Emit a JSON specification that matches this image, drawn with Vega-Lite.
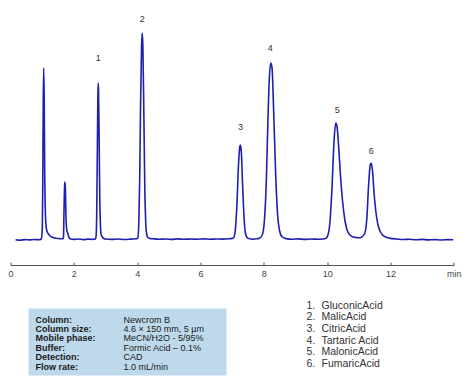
{
  "$schema": "https://vega.github.io/schema/vega-lite/v6.json",
  "padding": {"left": 7.5, "top": 0, "right": 0, "bottom": 0},
  "background": "white",
  "config": {
    "font": "Liberation Sans",
    "view": {"stroke": null},
    "axis": {"grid": false}
  },
  "datasets": {
    "trace": [
      {"t": 0.16, "v": 0.3}, {"t": 0.3, "v": -0.2}, {"t": 0.45, "v": 0.4}, {"t": 0.6, "v": 0.1}, {"t": 0.75, "v": 0.5}, {"t": 0.9, "v": 0.2},
      {"t": 0.97, "v": 1}, {"t": 1.0, "v": 8}, {"t": 1.02, "v": 60}, {"t": 1.035, "v": 140}, {"t": 1.05, "v": 172}, {"t": 1.065, "v": 140}, {"t": 1.08, "v": 70},
      {"t": 1.1, "v": 30}, {"t": 1.12, "v": 15}, {"t": 1.15, "v": 9}, {"t": 1.2, "v": 6}, {"t": 1.25, "v": 4}, {"t": 1.3, "v": 3}, {"t": 1.4, "v": 2}, {"t": 1.5, "v": 1.5}, {"t": 1.6, "v": 1.2}, {"t": 1.66, "v": 1.2},
      {"t": 1.675, "v": 4}, {"t": 1.69, "v": 30}, {"t": 1.71, "v": 55}, {"t": 1.72, "v": 58}, {"t": 1.735, "v": 50}, {"t": 1.75, "v": 25}, {"t": 1.77, "v": 12}, {"t": 1.79, "v": 8}, {"t": 1.81, "v": 7}, {"t": 1.83, "v": 4}, {"t": 1.86, "v": 2}, {"t": 1.9, "v": 1},
      {"t": 2.0, "v": 0.6}, {"t": 2.15, "v": 1.0}, {"t": 2.3, "v": 0.4}, {"t": 2.45, "v": 0.9}, {"t": 2.6, "v": 0.6}, {"t": 2.68, "v": 1},
      {"t": 2.7, "v": 3}, {"t": 2.72, "v": 20}, {"t": 2.74, "v": 80}, {"t": 2.76, "v": 145}, {"t": 2.77, "v": 157}, {"t": 2.78, "v": 150}, {"t": 2.8, "v": 100}, {"t": 2.82, "v": 40}, {"t": 2.84, "v": 15}, {"t": 2.86, "v": 6}, {"t": 2.9, "v": 3}, {"t": 2.95, "v": 1.5},
      {"t": 3.0, "v": 1}, {"t": 3.2, "v": 0.6}, {"t": 3.4, "v": 1.0}, {"t": 3.6, "v": 0.5}, {"t": 3.8, "v": 0.9}, {"t": 3.98, "v": 1.2},
      {"t": 4.02, "v": 2}, {"t": 4.05, "v": 15}, {"t": 4.08, "v": 60}, {"t": 4.11, "v": 140}, {"t": 4.14, "v": 195}, {"t": 4.16, "v": 207}, {"t": 4.18, "v": 195}, {"t": 4.21, "v": 130}, {"t": 4.24, "v": 55}, {"t": 4.27, "v": 18}, {"t": 4.3, "v": 6}, {"t": 4.34, "v": 2.5}, {"t": 4.4, "v": 1.5},
      {"t": 4.5, "v": 1.2}, {"t": 4.7, "v": 0.8}, {"t": 4.9, "v": 1.0}, {"t": 5.1, "v": 0.6}, {"t": 5.3, "v": 1.1}, {"t": 5.5, "v": 0.7}, {"t": 5.7, "v": 1.0}, {"t": 5.9, "v": 0.8}, {"t": 6.1, "v": 1.1}, {"t": 6.3, "v": 0.8}, {"t": 6.5, "v": 1.0}, {"t": 6.7, "v": 0.9}, {"t": 6.9, "v": 1.2}, {"t": 7.0, "v": 1.6},
      {"t": 7.05, "v": 2.5}, {"t": 7.1, "v": 10}, {"t": 7.15, "v": 35}, {"t": 7.2, "v": 75}, {"t": 7.24, "v": 93}, {"t": 7.26, "v": 95}, {"t": 7.29, "v": 88}, {"t": 7.33, "v": 55}, {"t": 7.38, "v": 20}, {"t": 7.42, "v": 7}, {"t": 7.47, "v": 2.5},
      {"t": 7.55, "v": 1.2}, {"t": 7.65, "v": 0.8}, {"t": 7.75, "v": 1.2}, {"t": 7.85, "v": 1.6},
      {"t": 7.95, "v": 5}, {"t": 8.02, "v": 20}, {"t": 8.08, "v": 60}, {"t": 8.13, "v": 120}, {"t": 8.18, "v": 165}, {"t": 8.22, "v": 177}, {"t": 8.26, "v": 172}, {"t": 8.31, "v": 130}, {"t": 8.37, "v": 70}, {"t": 8.43, "v": 28}, {"t": 8.5, "v": 9}, {"t": 8.58, "v": 3},
      {"t": 8.7, "v": 1.4}, {"t": 8.9, "v": 0.8}, {"t": 9.1, "v": 1.1}, {"t": 9.3, "v": 0.6}, {"t": 9.5, "v": 1.0}, {"t": 9.7, "v": 0.7}, {"t": 9.85, "v": 1.0}, {"t": 9.95, "v": 1.6},
      {"t": 10.0, "v": 3}, {"t": 10.08, "v": 15}, {"t": 10.15, "v": 50}, {"t": 10.22, "v": 100}, {"t": 10.27, "v": 117}, {"t": 10.31, "v": 114}, {"t": 10.36, "v": 95}, {"t": 10.42, "v": 65}, {"t": 10.49, "v": 38}, {"t": 10.56, "v": 20}, {"t": 10.63, "v": 10}, {"t": 10.72, "v": 5}, {"t": 10.82, "v": 3}, {"t": 10.92, "v": 2.5}, {"t": 11.0, "v": 2.2},
      {"t": 11.08, "v": 2.8}, {"t": 11.18, "v": 6}, {"t": 11.25, "v": 20}, {"t": 11.31, "v": 55}, {"t": 11.36, "v": 75}, {"t": 11.39, "v": 77}, {"t": 11.43, "v": 70}, {"t": 11.48, "v": 48}, {"t": 11.54, "v": 28}, {"t": 11.6, "v": 16}, {"t": 11.67, "v": 9}, {"t": 11.75, "v": 5}, {"t": 11.85, "v": 3},
      {"t": 12.0, "v": 1.6}, {"t": 12.2, "v": 1.0}, {"t": 12.4, "v": 0.5}, {"t": 12.6, "v": 0.8}, {"t": 12.8, "v": 0.2}, {"t": 13.0, "v": 0.6}, {"t": 13.2, "v": 0.1}, {"t": 13.4, "v": 0.4}, {"t": 13.6, "v": 0.0}, {"t": 13.8, "v": 0.4}, {"t": 13.98, "v": 0.3}
    ],
    "peaks": [
      {"t": 2.77, "v": 182, "label": "1"},
      {"t": 4.16, "v": 221, "label": "2"},
      {"t": 7.26, "v": 113, "label": "3"},
      {"t": 8.2, "v": 192, "label": "4"},
      {"t": 10.32, "v": 130, "label": "5"},
      {"t": 11.39, "v": 89, "label": "6"}
    ],
    "table": [
      {"row": 1, "col": "label", "text": "Column:"},
      {"row": 2, "col": "label", "text": "Column size:"},
      {"row": 3, "col": "label", "text": "Mobile phase:"},
      {"row": 4, "col": "label", "text": "Buffer:"},
      {"row": 5, "col": "label", "text": "Detection:"},
      {"row": 6, "col": "label", "text": "Flow rate:"},
      {"row": 1, "col": "value", "text": "Newcrom B"},
      {"row": 2, "col": "value", "text": "4.6 × 150 mm, 5 µm"},
      {"row": 3, "col": "value", "text": "MeCN/H2O - 5/95%"},
      {"row": 4, "col": "value", "text": "Formic Acid – 0.1%"},
      {"row": 5, "col": "value", "text": "CAD"},
      {"row": 6, "col": "value", "text": "1.0 mL/min"}
    ],
    "legend": [
      {"row": 1, "col": "num", "text": "1."},
      {"row": 2, "col": "num", "text": "2."},
      {"row": 3, "col": "num", "text": "3."},
      {"row": 4, "col": "num", "text": "4."},
      {"row": 5, "col": "num", "text": "5."},
      {"row": 6, "col": "num", "text": "6."},
      {"row": 1, "col": "name", "text": "GluconicAcid"},
      {"row": 2, "col": "name", "text": "MalicAcid"},
      {"row": 3, "col": "name", "text": "CitricAcid"},
      {"row": 4, "col": "name", "text": "Tartaric Acid"},
      {"row": 5, "col": "name", "text": "MalonicAcid"},
      {"row": 6, "col": "name", "text": "FumaricAcid"}
    ]
  },
  "spacing": 22.5,
  "vconcat": [
    {
      "width": 443.3,
      "height": 265,
      "layer": [
        {
          "data": {"name": "trace"},
          "mark": {"type": "line", "color": "#1e1eb0", "strokeWidth": 1.6, "interpolate": "monotone"},
          "encoding": {
            "x": {
              "field": "t", "type": "quantitative",
              "scale": {"domain": [0, 14], "nice": false, "zero": false},
              "axis": {
                "title": null,
                "values": [0, 2, 4, 6, 8, 10, 12, 14],
                "labelExpr": "datum.value == 14 ? 'min' : datum.label",
                "labelFontSize": 9,
                "labelColor": "#444",
                "domainColor": "#555",
                "tickColor": "#555",
                "tickSize": -3,
                "labelPadding": 7,
                "labelFlush": false,
                "labelOverlap": false
              }
            },
            "y": {
              "field": "v", "type": "quantitative",
              "scale": {"domain": [-25, 240], "nice": false, "zero": false},
              "axis": null
            }
          }
        },
        {
          "data": {"name": "peaks"},
          "mark": {"type": "text", "fontSize": 9, "color": "#333", "baseline": "middle"},
          "encoding": {
            "x": {"field": "t", "type": "quantitative"},
            "y": {"field": "v", "type": "quantitative"},
            "text": {"field": "label"}
          }
        }
      ]
    },
    {
      "spacing": 0,
      "hconcat": [
        {
          "width": 17.5, "height": 1,
          "data": {"values": []},
          "mark": "rule",
          "encoding": {}
        },
        {
          "width": 198, "height": 67,
          "view": {"fill": "#bfd9ec", "stroke": null},
          "data": {"name": "table"},
          "encoding": {
            "x": {
              "field": "col", "type": "nominal", "bandPosition": 0,
              "scale": {"type": "band", "domain": ["label", "value"], "paddingInner": 0, "paddingOuter": 0.125, "align": 0.318},
              "axis": null
            },
            "y": {
              "field": "row", "type": "quantitative",
              "scale": {"domain": [-0.163, 6.919], "reverse": true, "nice": false, "zero": false},
              "axis": null
            },
            "text": {"field": "text"}
          },
          "layer": [
            {
              "transform": [{"filter": "datum.col == 'label'"}],
              "mark": {"type": "text", "align": "left", "baseline": "middle", "fontSize": 9, "fontWeight": "bold", "color": "#1a1a1a"}
            },
            {
              "transform": [{"filter": "datum.col == 'value'"}],
              "mark": {"type": "text", "align": "left", "baseline": "middle", "fontSize": 9, "color": "#1a1a1a"}
            }
          ]
        },
        {
          "width": 80, "height": 1,
          "data": {"values": []},
          "mark": "rule",
          "encoding": {}
        },
        {
          "width": 30, "height": 67,
          "data": {"name": "legend"},
          "mark": {"type": "text", "align": "left", "baseline": "middle", "fontSize": 10.5, "color": "#333"},
          "encoding": {
            "x": {
              "field": "col", "type": "nominal", "bandPosition": 0,
              "scale": {"type": "band", "domain": ["num", "name"], "paddingInner": 0, "paddingOuter": 0},
              "axis": null
            },
            "y": {
              "field": "row", "type": "quantitative",
              "scale": {"domain": [1.257, 7.0], "reverse": true, "nice": false, "zero": false},
              "axis": null
            },
            "text": {"field": "text"}
          }
        }
      ]
    }
  ]
}
